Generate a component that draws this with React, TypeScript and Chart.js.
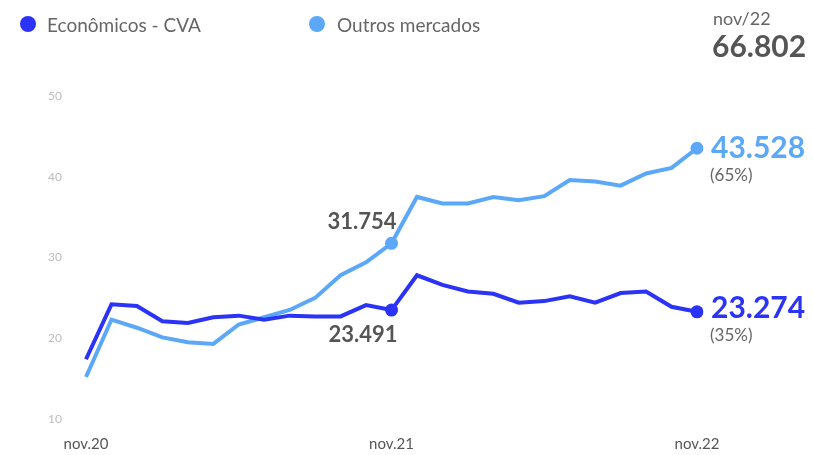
import React, { useEffect, useRef } from "react";
import { Chart, registerables } from "chart.js";

Chart.register(...registerables);

const months = [
  "nov.20", "dez.20", "jan.21", "fev.21", "mar.21", "abr.21", "mai.21", "jun.21", "jul.21", "ago.21", "set.21", "out.21",
  "nov.21", "dez.21", "jan.22", "fev.22", "mar.22", "abr.22", "mai.22", "jun.22", "jul.22", "ago.22", "set.22", "out.22",
  "nov.22",
];

const economicosCVA = [
  17.4, 24.2, 24.0, 22.1, 21.9, 22.6, 22.8, 22.3, 22.8, 22.7, 22.7, 24.1,
  23.491, 27.8, 26.6, 25.8, 25.5, 24.4, 24.6, 25.2, 24.4, 25.6, 25.8, 23.9,
  23.274,
];

const outrosMercados = [
  15.2, 22.3, 21.3, 20.1, 19.5, 19.3, 21.7, 22.6, 23.5, 25.0, 27.8, 29.4,
  31.754, 37.5, 36.7, 36.7, 37.5, 37.1, 37.6, 39.6, 39.4, 38.9, 40.4, 41.1,
  43.528,
];

const seriesNames = ["Econômicos - CVA", "Outros mercados"];
const yTicks = [10, 20, 30, 40, 50];
const highlightIndex = 12;

const DARK = "#2a33f6";
const LIGHT = "#5ba8f9";
const FONT = "Lato, 'Open Sans', sans-serif";

const fmt = (v: number) => v.toFixed(3);

const annotationPlugin = {
  id: "annotations",
  afterDatasetsDraw(chart: any) {
    const ctx = chart.ctx;
    const last = months.length - 1;
    const m0 = chart.getDatasetMeta(0).data;
    const m1 = chart.getDatasetMeta(1).data;
    const total = economicosCVA[last] + outrosMercados[last];
    ctx.save();
    ctx.font = `bold 22px ${FONT}`;
    ctx.fillStyle = "#555555";
    ctx.textAlign = "right";
    ctx.textBaseline = "middle";
    const p1 = m1[highlightIndex];
    ctx.fillText(fmt(outrosMercados[highlightIndex]), p1.x + 5, p1.y - 21);
    const p0 = m0[highlightIndex];
    ctx.fillText(fmt(economicosCVA[highlightIndex]), p0.x + 6, p0.y + 25);

    ctx.textAlign = "left";
    const e1 = m1[last];
    const e0 = m0[last];
    ctx.font = `bold 30px ${FONT}`;
    ctx.fillStyle = LIGHT;
    ctx.fillText(fmt(outrosMercados[last]), e1.x + 14, e1.y);
    ctx.fillStyle = DARK;
    ctx.fillText(fmt(economicosCVA[last]), e0.x + 14, e0.y - 3);
    ctx.font = `17px ${FONT}`;
    ctx.fillStyle = "#666666";
    ctx.fillText(`(${Math.round((outrosMercados[last] / total) * 100)}%)`, e1.x + 13, e1.y + 27);
    ctx.fillText(`(${Math.round((economicosCVA[last] / total) * 100)}%)`, e0.x + 13, e0.y + 24);
    ctx.restore();
  },
};

export default function App() {
  const ref = useRef<HTMLCanvasElement | null>(null);
  const last = months.length - 1;
  const total = economicosCVA[last] + outrosMercados[last];

  useEffect(() => {
    if (!ref.current) return;
    const radius = (c: any) => (c.dataIndex === highlightIndex || c.dataIndex === last ? 6.5 : 0);
    const chart = new Chart(ref.current, {
      type: "line",
      data: {
        labels: months,
        datasets: [
          {
            label: seriesNames[0],
            data: economicosCVA,
            borderColor: DARK,
            backgroundColor: DARK,
            borderWidth: 4,
            pointRadius: radius,
            pointBorderWidth: 0,
            tension: 0,
          },
          {
            label: seriesNames[1],
            data: outrosMercados,
            borderColor: LIGHT,
            backgroundColor: LIGHT,
            borderWidth: 4,
            pointRadius: radius,
            pointBorderWidth: 0,
            tension: 0,
          },
        ],
      },
      options: {
        responsive: false,
        animation: false,
        layout: { padding: { top: 96, right: 116, left: 0, bottom: 0 } },
        plugins: {
          legend: { display: false },
          tooltip: { enabled: false },
        },
        scales: {
          x: {
            offset: false,
            grid: { display: false, drawTicks: false },
            border: { display: false },
            ticks: {
              autoSkip: false,
              maxRotation: 0,
              padding: 16,
              color: "#555555",
              font: { family: FONT, size: 15 },
              callback: (_v: any, i: number) => (i % 12 === 0 ? months[i] : ""),
            },
            afterFit: (s: any) => {
              s.height = 36;
            },
          },
          y: {
            min: yTicks[0],
            max: yTicks[yTicks.length - 1],
            grid: { display: false, drawTicks: false },
            border: { display: false },
            afterBuildTicks: (s: any) => {
              s.ticks = yTicks.map((v) => ({ value: v }));
            },
            ticks: {
              padding: 24,
              color: "#bdbdbd",
              font: { family: FONT, size: 12 },
            },
            afterFit: (s: any) => {
              s.width = 86;
            },
          },
        },
      },
      plugins: [annotationPlugin],
    });
    return () => chart.destroy();
  }, []);

  const legendItem = (name: string, color: string, dotX: number, textX: number) => (
    <>
      <div
        style={{
          position: "absolute",
          left: dotX - 8,
          top: 24 - 8,
          width: 16,
          height: 16,
          borderRadius: "50%",
          background: color,
        }}
      />
      <div
        style={{
          position: "absolute",
          left: textX,
          top: 12,
          fontFamily: FONT,
          fontSize: 19,
          lineHeight: "26px",
          color: "#666666",
          whiteSpace: "nowrap",
        }}
      >
        {name}
      </div>
    </>
  );

  return (
    <div style={{ position: "absolute", left: 0, top: 0, width: 813, height: 455, background: "#ffffff" }}>
      <canvas ref={ref} width={813} height={455} style={{ position: "absolute", left: 0, top: 0, width: 813, height: 455 }} />
      {legendItem(seriesNames[0], DARK, 28, 47)}
      {legendItem(seriesNames[1], LIGHT, 317, 337)}
      <div
        style={{
          position: "absolute",
          left: 713,
          top: 6,
          fontFamily: FONT,
          fontSize: 18,
          lineHeight: "24px",
          color: "#666666",
        }}
      >
        {months[last].replace(".", "/")}
      </div>
      <div
        style={{
          position: "absolute",
          left: 712,
          top: 27,
          fontFamily: FONT,
          fontSize: 30,
          fontWeight: "bold",
          lineHeight: "36px",
          color: "#555555",
        }}
      >
        {fmt(total)}
      </div>
    </div>
  );
}
